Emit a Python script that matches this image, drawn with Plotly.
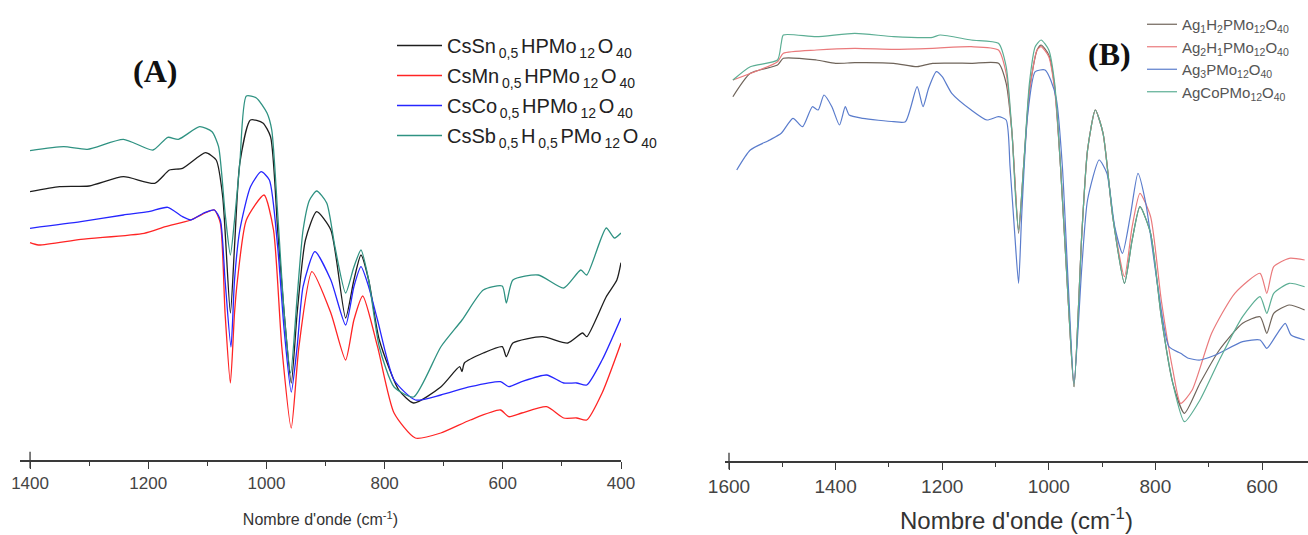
import plotly.graph_objects as go

W, H = 1308, 535

# ---------------- Panel A data (wavenumber cm-1, transmittance a.u.) ----------------
wn_cssn = [1400, 1350, 1300, 1242, 1189, 1164, 1142, 1103, 1085, 1074, 1061, 1054, 1045, 1027, 1006, 993, 981, 970, 958, 948, 934, 915, 891, 866, 852, 840, 827, 809, 776, 751, 705, 673, 669, 665, 633, 601, 594, 583, 533, 490, 465, 458, 425, 407, 400]
t_cssn = [268.3, 273.3, 274, 283.3, 276.7, 290, 291.7, 307.3, 300, 263.3, 147, 213.3, 297, 340, 337, 323.3, 230, 147, 77, 147, 220, 248.3, 230, 142, 180, 205, 180, 120, 70, 57, 73, 93.3, 88.3, 97, 107, 113.3, 103.3, 117, 123.3, 117, 127, 123.3, 163.3, 180, 197.3]

wn_csmn = [1400, 1386, 1314, 1207, 1171, 1128, 1099, 1088, 1078, 1070, 1061, 1054, 1049, 1034, 1004, 988, 974, 958, 945, 923, 891, 866, 852, 837, 812, 784, 748, 705, 655, 604, 590, 568, 526, 497, 475, 458, 432, 400]
t_csmn = [217.3, 215, 220.7, 226.7, 233.3, 240, 248.3, 250, 237, 147, 77, 147, 180, 240, 265, 230, 113.3, 32, 113.3, 188.3, 147, 100, 140, 164, 113.3, 47, 22, 27, 40, 50, 43.3, 47, 53.3, 42, 42, 40, 67, 117]

wn_csco = [1400, 1314, 1242, 1199, 1167, 1142, 1128, 1106, 1088, 1078, 1070, 1060, 1054, 1045, 1027, 1009, 995, 981, 970, 958, 948, 938, 918, 891, 866, 852, 840, 827, 812, 784, 748, 705, 655, 604, 590, 568, 526, 497, 475, 458, 432, 400]
t_csco = [231.7, 238.3, 245, 248.3, 252.7, 243.3, 240, 247, 250, 240, 180, 113, 180, 230, 273.3, 288.3, 280, 213.3, 130, 68, 113.3, 173.3, 208.3, 180, 135, 173.3, 193.3, 173.3, 140, 80, 60, 65, 73.3, 78.3, 73.3, 78.3, 85, 77, 77, 75, 100, 142]

wn_cssb = [1400, 1343, 1303, 1242, 1192, 1167, 1149, 1113, 1092, 1081, 1070, 1061, 1054, 1045, 1034, 1017, 999, 991, 981, 970, 959, 948, 938, 927, 915, 898, 884, 866, 852, 840, 827, 809, 784, 751, 705, 669, 633, 601, 594, 583, 540, 497, 468, 458, 425, 411, 400]
t_cssb = [309.3, 313.3, 310.7, 320.7, 310, 322.7, 320.7, 333.3, 328.3, 313.3, 247, 205, 240, 297, 364, 362, 347, 330, 247, 147, 87, 163, 230, 260, 269, 257, 213, 167, 193, 210, 180, 113, 73, 63, 113, 140, 170, 174, 157, 180, 185, 172, 190, 185, 232, 222, 227]

T = "\u2009"  # thin space, mimics the loose subscript spacing of the original
names_a = [f"CsSn<sub>{T}0,5{T}</sub>HPMo<sub>{T}12{T}</sub>O<sub>{T}40</sub>",
           f"CsMn<sub>{T}0,5{T}</sub>HPMo<sub>{T}12{T}</sub>O<sub>{T}40</sub>",
           f"CsCo<sub>{T}0,5{T}</sub>HPMo<sub>{T}12{T}</sub>O<sub>{T}40</sub>",
           f"CsSb<sub>{T}0,5{T}</sub>H<sub>{T}0,5{T}</sub>PMo<sub>{T}12{T}</sub>O<sub>{T}40</sub>"]
colors_a = ["#1e1e1e", "#ff2424", "#2626ff", "#2f9282"]

# ---------------- Panel B data ----------------
wn_ag1 = [1592.7, 1560, 1509, 1498, 1436, 1400, 1364, 1291, 1247, 1218, 1145.5, 1094.5, 1080, 1069, 1056.7, 1047.3, 1036.4, 1022, 1014.5, 1000, 989, 978, 963.6, 952.7, 938, 927.3, 912.7, 898.2, 880, 858, 843.6, 829, 809, 789, 767.3, 745.5, 716.4, 680, 636.4, 603.6, 591, 578, 549, 520]
t_ag1 = [364.3, 387.7, 396, 402.7, 401, 397.7, 398.3, 397.7, 394.3, 397.7, 397.7, 397.7, 377.7, 327.7, 227.7, 294.3, 371, 411, 416, 406, 374.3, 294.3, 161, 74.3, 227.7, 311, 351, 327.7, 244.3, 177.7, 221, 254.3, 227.7, 144.3, 77.7, 47.7, 77.7, 111, 137.7, 144.3, 127.7, 147.7, 156, 151]

wn_ag2 = [1592.7, 1509, 1498, 1436, 1364, 1291, 1218, 1145.5, 1094.5, 1080, 1069, 1056.7, 1047.3, 1036.4, 1022, 1014.5, 1000, 989, 978, 963.6, 952.7, 938, 927.3, 912.7, 898.2, 880, 858, 843.6, 829, 809, 789, 767.3, 752.7, 731, 694.5, 651, 603.6, 591, 578, 549, 520]
t_ag2 = [381, 399.3, 407.7, 411, 412.7, 411.7, 412.7, 414.3, 411, 387.7, 327.7, 231, 294.3, 367.7, 411, 414.3, 404.3, 371, 294.3, 161, 74.3, 227.7, 311, 351, 327.7, 244.3, 184.3, 234.3, 267.7, 244.3, 161, 91, 57.7, 71, 127.7, 167.7, 187.7, 167.7, 194.3, 202.7, 201]

wn_ag3 = [1585.5, 1560, 1523.6, 1502, 1480, 1462, 1443.6, 1432.7, 1421.8, 1407, 1392.7, 1381.8, 1374.5, 1349, 1291, 1269, 1247, 1236, 1225.5, 1211, 1200, 1182, 1145.5, 1116, 1094.5, 1080, 1072.7, 1064, 1056.7, 1051, 1040, 1025.5, 1007, 996.4, 985.5, 974.5, 963.6, 952.7, 938, 927.3, 905.5, 891, 876.3, 861.8, 847.3, 832.7, 818, 796.4, 774.5, 752.7, 738, 716.4, 687.3, 636.4, 603.6, 591, 571, 556.4, 545.5, 520]
t_ag3 = [291, 311, 321, 327.7, 342.7, 334.3, 354.3, 351, 366, 354.3, 336, 354.3, 346, 342.7, 339.3, 339.3, 374.3, 354.3, 372.7, 389.3, 384.3, 367.7, 351, 341, 344.3, 341, 294.3, 227.7, 177.7, 244.3, 344.3, 389.3, 391, 381, 361, 294.3, 177.7, 77.7, 194.3, 261, 301, 287.7, 234.3, 207.7, 244.3, 287.7, 257.7, 177.7, 114.3, 107.7, 102.7, 101, 106, 119.3, 121, 112.7, 127.7, 137.7, 126, 121]

wn_agco = [1592.7, 1560, 1509, 1502, 1498, 1436, 1364, 1291, 1218, 1204, 1145.5, 1094.5, 1080, 1069, 1062, 1056.7, 1047.3, 1036.4, 1025.5, 1014.5, 1000, 989, 978, 963.6, 952.7, 938, 927.3, 912.7, 898.2, 880, 858, 843.6, 829, 809, 789, 767.3, 745.5, 716.4, 680, 636.4, 603.6, 591, 578, 549, 520]
t_agco = [381, 394.3, 401, 417.7, 426, 424.3, 427.7, 424.3, 423.7, 426, 421, 417.7, 394.3, 327.7, 261, 231, 294.3, 377.7, 414.3, 421, 411, 377.7, 294.3, 161, 74.3, 227.7, 311, 351, 327.7, 244.3, 177.7, 221, 254.3, 227.7, 144.3, 77.7, 39.3, 61, 101, 144.3, 164.3, 147.7, 167.7, 177.7, 174.3]

names_b = ["Ag<sub>1</sub>H<sub>2</sub>PMo<sub>12</sub>O<sub>40</sub>",
           "Ag<sub>2</sub>H<sub>1</sub>PMo<sub>12</sub>O<sub>40</sub>",
           "Ag<sub>3</sub>PMo<sub>12</sub>O<sub>40</sub>",
           "AgCoPMo<sub>12</sub>O<sub>40</sub>"]
colors_b = ["#6f645a", "#ea7a7c", "#5a7ccc", "#5cae94"]

xtitle = "Nombre d'onde (cm<sup>-1</sup>)"

fig = go.Figure()

series_a = [(wn_cssn, t_cssn), (wn_csmn, t_csmn), (wn_csco, t_csco), (wn_cssb, t_cssb)]
for i, ((x, y), nm, c) in enumerate(zip(series_a, names_a, colors_a)):
    fig.add_trace(go.Scatter(x=x, y=y, mode="lines", name=nm, legendgroup=f"a{i}",
                             line=dict(color=c, width=1.3, shape="spline", smoothing=0.6),
                             xaxis="x", yaxis="y", legend="legend", hoverinfo="skip"))

series_b = [(wn_ag1, t_ag1), (wn_ag2, t_ag2), (wn_ag3, t_ag3), (wn_agco, t_agco)]
for i, ((x, y), nm, c) in enumerate(zip(series_b, names_b, colors_b)):
    fig.add_trace(go.Scatter(x=x, y=y, mode="lines", name=nm, legendgroup=f"b{i}",
                             line=dict(color=c, width=1.2, shape="spline", smoothing=0.6),
                             xaxis="x2", yaxis="y2", legend="legend2", hoverinfo="skip"))

axis_common = dict(showline=True, linecolor="#3a3a3a", linewidth=1.5, showgrid=False,
                   zeroline=False, ticks="outside", ticklen=7, tickwidth=1.3, tickcolor="#3a3a3a",
                   dtick=200, tick0=0, automargin=False,
                   minor=dict(dtick=100, ticks="outside", ticklen=4, tickwidth=1.2, tickcolor="#3a3a3a"))

fig.update_layout(
    width=W, height=H,
    margin=dict(l=0, r=0, t=0, b=0, autoexpand=False),
    paper_bgcolor="white", plot_bgcolor="white",
    font=dict(family="Liberation Sans, Arial, sans-serif", color="#333"),
    xaxis=dict(domain=[20 / W, 621 / W], range=[1417, 400], anchor="y",
               tickfont=dict(size=17, color="#444"),
               title=dict(text=xtitle, font=dict(size=16, color="#333"), standoff=22),
               **axis_common),
    yaxis=dict(domain=[75 / H, 1], range=[0, 460], visible=False, automargin=False),
    xaxis2=dict(domain=[725 / W, 1], range=[1607.5, 513.7], anchor="y2",
                tickfont=dict(size=19, color="#444"),
                title=dict(text=xtitle, font=dict(size=24, color="#333"), standoff=17),
                **axis_common),
    yaxis2=dict(domain=[74 / H, 1], range=[0, 461], visible=False, automargin=False),
    legend=dict(x=392 / W, y=1 - 26 / H, xanchor="left", yanchor="top",
                font=dict(size=20, color="#222"), bgcolor="rgba(0,0,0,0)",
                tracegroupgap=1, itemwidth=45),
    legend2=dict(x=1142 / W, y=1 - 8 / H, xanchor="left", yanchor="top",
                 font=dict(size=15, color="#555"), bgcolor="rgba(0,0,0,0)",
                 tracegroupgap=0, itemwidth=30),
    annotations=[
        dict(text="<b>(A)</b>", x=155 / W, y=1 - 71 / H, xref="paper", yref="paper",
             xanchor="center", yanchor="middle", showarrow=False,
             font=dict(family="Liberation Serif, Times New Roman, serif", size=32, color="#111")),
        dict(text="<b>(B)</b>", x=1109 / W, y=1 - 54 / H, xref="paper", yref="paper",
             xanchor="center", yanchor="middle", showarrow=False,
             font=dict(family="Liberation Serif, Times New Roman, serif", size=32, color="#111")),
    ],
    shapes=[
        dict(type="line", xref="x", yref="y domain", x0=1400, x1=1400, y0=-0.018, y1=0.018,
             line=dict(color="#3a3a3a", width=1.3)),
        dict(type="line", xref="x2", yref="y2 domain", x0=1600, x1=1600, y0=-0.018, y1=0.018,
             line=dict(color="#3a3a3a", width=1.3)),
    ],
)

fig.write_html("out.html", config={"displayModeBar": False},
               post_script="document.body.style.margin='0px';document.body.style.padding='0px';")
